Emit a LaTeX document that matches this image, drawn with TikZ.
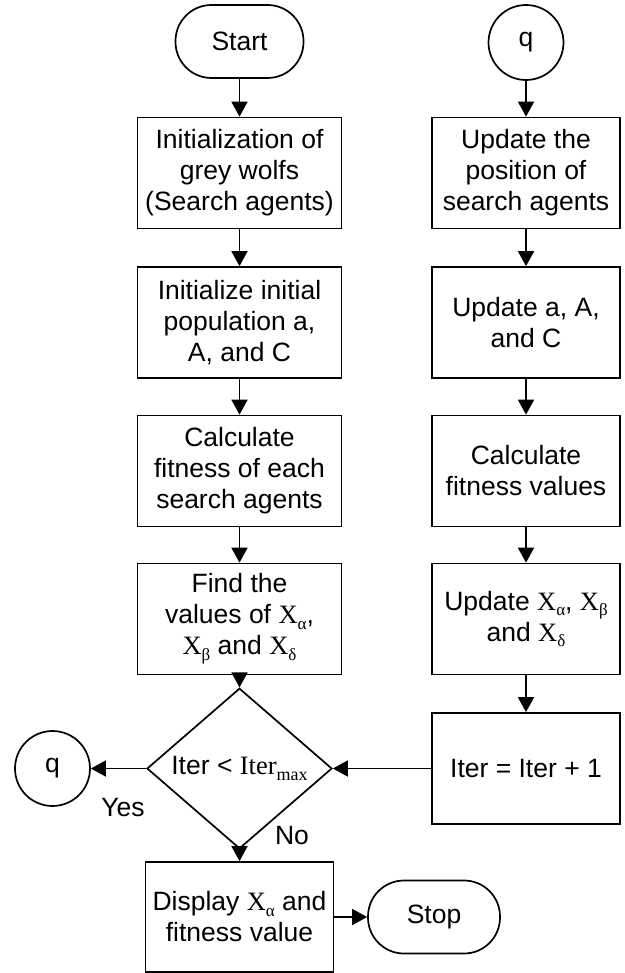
\documentclass[tikz,border=0pt]{standalone}
\usepackage{fontspec}
\setmainfont{Liberation Sans}
\newfontfamily\tnr{Liberation Serif}
\usetikzlibrary{shapes.geometric,arrows.meta}
\newcommand\Xs[1]{{\tnr X\raisebox{-0.22em}{\fontsize{17}{17}\selectfont #1}}}
\newcommand\itermax{{\tnr Iter\raisebox{-0.22em}{\fontsize{18}{18}\selectfont max}}}
\begin{document}
\begin{tikzpicture}[x=1pt,y=-1pt,
  every node/.style={font=\fontsize{26.5}{31}\selectfont},
  base/.style={draw, line width=1.7pt, inner sep=0pt, align=center},
  proc/.style={base, rectangle, minimum height=111pt},
  lbox/.style={proc, minimum width=204pt},
  rbox/.style={proc, minimum width=188pt},
  term/.style={base, rectangle, rounded corners=36pt, minimum height=73pt},
  conn/.style={circle, base, minimum size=75pt},
  dec/.style={base, diamond, minimum width=185pt, minimum height=111pt},
  arr/.style={line width=1.7pt, -{Triangle[length=15pt,width=16pt]}},
  lbl/.style={inner sep=0pt}]
\useasboundingbox (0,0) rectangle (624,973);
% left column
\node[term, minimum width=128pt] (start) at (239.5,41.5) {Start};
\node[lbox] (b1) at (239.5,173) {\fontsize{26.5}{28.5}\selectfont Initialization of\\grey wolfs\\(Search agents)};
\node[lbox] (b2) at (239.5,322.5) {Initialize initial\\population a,\\A, and C};
\node[lbox] (b3) at (239.5,471) {Calculate\\fitness of each\\search agents};
\node[lbox] (b4) at (239.5,619) {Find the\\values of \Xs{α},\\\Xs{β} and \Xs{δ}};
\node[dec] (d) at (239.5,768.5) {Iter < \itermax};
\node[rbox, minimum height=110pt] (disp) at (239.5,917) {Display \Xs{α} and\\fitness value};
\node[term, minimum width=132pt] (stop) at (434,917) {Stop};
\node[conn] (q1) at (52.5,768.5) {\raisebox{-4pt}[0pt][0pt]{q}};
% right column
\node[conn] (q2) at (526,42.5) {\raisebox{-4pt}[0pt][0pt]{q}};
\node[rbox] (r1) at (526,173) {Update the\\position of\\search agents};
\node[rbox] (r2) at (526,322.5) {Update a, A,\\and C};
\node[rbox] (r3) at (526,471) {Calculate\\fitness values};
\node[rbox] (r4) at (526,619) {Update \Xs{α}, \Xs{β}\\and \Xs{δ}};
\node[rbox] (r5) at (526,768.5) {Iter = Iter + 1};
% connectors
\draw[arr] (start) -- (b1);
\draw[arr] (b1) -- (b2);
\draw[arr] (b2) -- (b3);
\draw[arr] (b3) -- (b4);
\draw[arr] (b4) -- (d);
\draw[arr] (d) -- (q1);
\draw[arr] (d) -- (disp);
\draw[arr] (disp) -- (stop);
\draw[arr] (q2) -- (r1);
\draw[arr] (r1) -- (r2);
\draw[arr] (r2) -- (r3);
\draw[arr] (r3) -- (r4);
\draw[arr] (r4) -- (r5);
\draw[arr] (r5) -- (d);
\node[lbl] (yes) at (123,808) {Yes};
\node[lbl] (no) at (292,836) {No};
\end{tikzpicture}
\end{document}
